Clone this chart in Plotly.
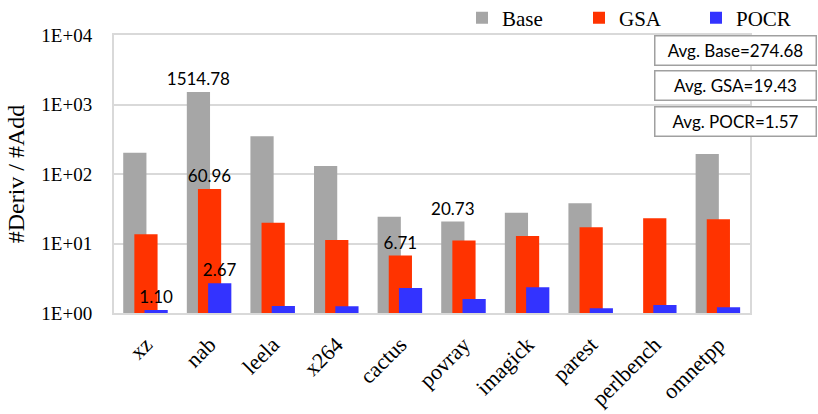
import plotly.graph_objects as go

categories = ["xz", "nab", "leela", "x264", "cactus", "povray", "imagick", "parest", "perlbench", "omnetpp"]
base = [202, 1514.78, 349, 130, 24.3, 20.73, 27.7, 37.9, None, 194]
gsa = [13.6, 60.96, 19.9, 11.2, 6.71, 11.0, 12.8, 17.1, 23.0, 22.3]
pocr = [1.10, 2.67, 1.26, 1.25, 2.29, 1.59, 2.34, 1.17, 1.30, 1.21]
base_labels = ["", "1514.78", "", "", "", "20.73", "", "", "", ""]
gsa_labels = ["", "60.96", "", "", "6.71", "", "", "", "", ""]
pocr_labels = ["1.10", "2.67", "", "", "", "", "", "", "", ""]
averages = ["Avg. Base=274.68", "Avg. GSA=19.43", "Avg. POCR=1.57"]
ytick_vals = [1, 10, 100, 1000, 10000]
ytick_text = ["1E+00", "1E+01", "1E+02", "1E+03", "1E+04"]

SERIF = "Liberation Serif, Times New Roman, serif"
SANS = "Lato, Open Sans, sans-serif"

W, H = 818, 414
ML, MR, MT, MB = 114, 68, 35, 101
PW, PH = W - ML - MR, H - MT - MB

fig = go.Figure()
series = [
    ("Base", base, base_labels, "#a6a6a6", -0.355),
    ("GSA", gsa, gsa_labels, "#ff3300", -0.18),
    ("POCR", pocr, pocr_labels, "#3333ff", -0.02),
]
for name, vals, labels, color, off in series:
    fig.add_trace(go.Bar(
        x=categories, y=vals, name=name,
        marker=dict(color=color, line=dict(width=0)),
        width=0.365, offset=off,
        text=labels, textposition="outside", constraintext="none",
        textfont=dict(family=SANS, size=17, color="#000000"),
        cliponaxis=False,
    ))

fig.update_layout(
    width=W, height=H,
    margin=dict(l=ML, r=MR, t=MT, b=MB, autoexpand=False),
    paper_bgcolor="white", plot_bgcolor="white",
    barmode="overlay",
    showlegend=True,
    legend=dict(
        orientation="h", x=(462 - ML) / PW, xanchor="left",
        y=(H - MB - 18) / PH, yanchor="middle",
        font=dict(family=SERIF, size=21, color="#000000"),
        entrywidth=72, entrywidthmode="pixels",
        itemwidth=30, bgcolor="rgba(0,0,0,0)",
        traceorder="normal",
    ),
    xaxis=dict(
        type="category", tickangle=-45,
        tickfont=dict(family=SERIF, size=22, color="#000000"),
        showline=True, linecolor="#d9d9d9", linewidth=2, mirror=True,
        showgrid=False, ticks="", ticklabelstandoff=8, automargin=False,
    ),
    yaxis=dict(
        type="log", range=[0, 4],
        tickvals=ytick_vals, ticktext=ytick_text,
        tickfont=dict(family=SERIF, size=19, color="#000000"),
        showline=True, linecolor="#d9d9d9", linewidth=2, mirror=True,
        showgrid=True, gridcolor="#d9d9d9", gridwidth=1.5,
        ticks="", ticklabelstandoff=16, automargin=False,
        title=dict(text="#Deriv / #Add", font=dict(family=SERIF, size=24, color="#000000"), standoff=10),
        zeroline=False,
    ),
)

box_centers_px = [50.5, 85.5, 121.5]
for txt, cy in zip(averages, box_centers_px):
    fig.add_annotation(
        text=txt, xref="paper", yref="paper",
        x=(817 - ML) / PW, xanchor="right",
        y=(H - MB - cy) / PH, yanchor="middle",
        showarrow=False, width=158, height=26,
        bordercolor="#a0a0a0", borderwidth=1.5, borderpad=1,
        bgcolor="white",
        font=dict(family=SANS, size=17, color="#000000"),
    )

fig.write_html("out.html")
